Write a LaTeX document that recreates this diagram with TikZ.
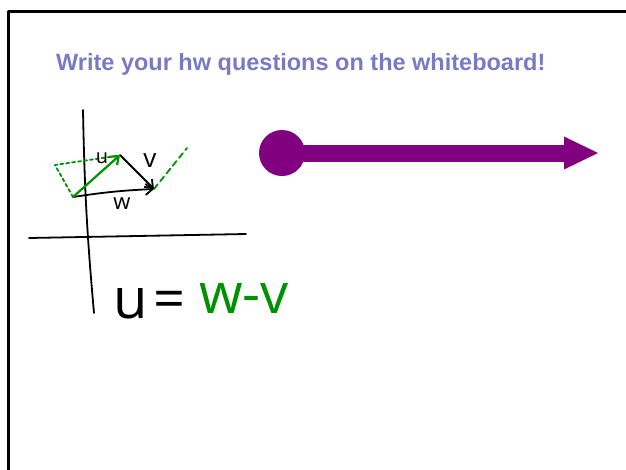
\documentclass[tikz,border=0pt]{standalone}
\usepackage{fontspec}
\setmainfont{Liberation Sans}
\newfontfamily\handfont{Open Sans}
\usetikzlibrary{arrows.meta}
\definecolor{titleblue}{RGB}{122,122,196}
\definecolor{handgreen}{RGB}{0,145,0}
\definecolor{arrowpurple}{RGB}{128,0,128}
\begin{document}
\begin{tikzpicture}[x=1pt,y=-1pt,line cap=round,line join=round,
    hand line/.style={draw=black,line width=1.8pt},
    green vec/.style={draw=handgreen,line width=2.2pt},
    green dash/.style={draw=handgreen,line width=1.8pt,dash pattern=on 3pt off 3pt},
    hand label/.style={font=\handfont\fontsize{20}{20}\selectfont,inner sep=0pt},
    hand eq/.style={font=\handfont\fontsize{56}{56}\selectfont,inner sep=0pt,anchor=base},
    barb/.style={-{Straight Barb[length=7pt,width=11pt]}},
    big dot/.style={circle,fill=arrowpurple,minimum size=46pt,inner sep=0pt},
    big arrow/.style={draw=arrowpurple,line width=17pt,line cap=butt,-{Triangle[length=34pt,width=33pt,line width=0pt]}}]
    \useasboundingbox (0,0) rectangle (626,469);
    \clip (0,0) rectangle (626,469);
    % slide frame
    \draw[line width=2.5pt,line cap=butt] (8.7,500) -- (8.7,11.5) -- (660,11.5);

    \node[anchor=base west,inner sep=0pt,text=titleblue,font=\bfseries\fontsize{23.5}{28}\selectfont] (title) at (56,70) {Write your hw questions on the whiteboard!};

    % axes
    \coordinate (yTop) at (83,110);
    \coordinate (yBot) at (94,313);
    \coordinate (xLeft) at (29,238);
    \coordinate (xRight) at (246,234);
    \draw[hand line] (yTop) to[bend right=2] (yBot);
    \draw[hand line] (xLeft) -- (xRight);

    % vectors
    \coordinate (o) at (73,197);
    \coordinate (tipU) at (120,155);
    \coordinate (tipW) at (154,189);
    \coordinate (cornerL) at (55,165);
    \coordinate (dotEnd) at (116,156);
    \coordinate (dashEnd) at (187,148);
    \draw[green dash] (o) -- (cornerL) -- (dotEnd);
    \draw[green dash,dash pattern=on 6pt off 4pt] (tipW) -- (dashEnd);
    \draw[hand line,barb] (o) to[bend left=3] (tipW);
    \draw[hand line,barb] (tipU) -- (tipW);
    \draw[green vec,barb] (o) -- (tipU);

    \node[hand label] (lblU) at (102,158) {u};
    \node[hand label,font=\handfont\fontsize{26}{26}\selectfont] (lblV) at (150,161) {v};
    \node[hand label,font=\handfont\fontsize{22}{22}\selectfont] (lblW) at (122,204) {w};

    % equation
    \node[hand eq] (eqU) at (131,318) {u};
    \node[hand eq] (eqSign) at (170,318) {=};
    \node[hand eq,text=handgreen] (eqRhs) at (244,313) {w-v};

    % purple arrow
    \node[big dot] (dotStart) at (282,153) {};
    \coordinate (arrowTip) at (598,153);
    \draw[big arrow] (dotStart.center) -- (arrowTip);
\end{tikzpicture}
\end{document}
